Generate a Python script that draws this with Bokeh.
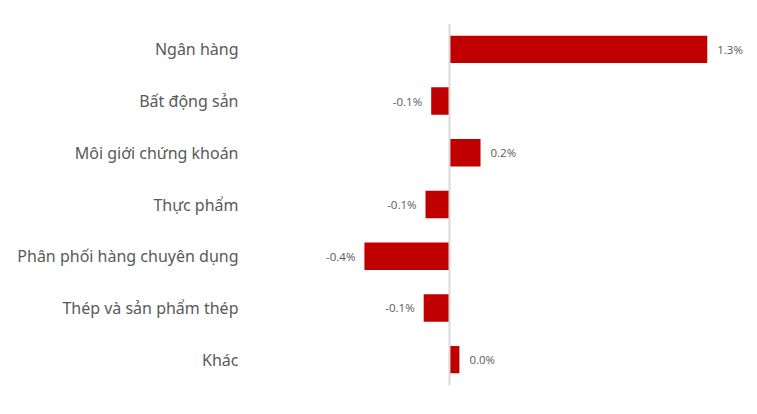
from bokeh.plotting import figure
from bokeh.models import ColumnDataSource, Span, FactorRange
from bokeh.core.properties import value
from bokeh.embed import file_html
from bokeh.resources import INLINE

categories = ["Ngân hàng", "Bất động sản", "Môi giới chứng khoán", "Thực phẩm",
              "Phân phối hàng chuyên dụng", "Thép và sản phẩm thép", "Khác"]
values = [1.27, -0.09, 0.153, -0.118, -0.419, -0.127, 0.049]

labels = [f"{v:.1f}%" for v in values]
aligns = ["left" if v >= 0 else "right" for v in values]
offsets = [10 if v >= 0 else -9 for v in values]

src = ColumnDataSource(dict(cat=categories, val=values, lab=labels,
                            align=aligns, off=offsets))

p = figure(width=749, height=406, output_backend="svg", toolbar_location=None,
           y_range=FactorRange(factors=list(reversed(categories))),
           x_range=(-0.99, 1.478),
           min_border_left=248, min_border_right=0, min_border_top=23,
           min_border_bottom=21)
p.outline_line_color = None
p.grid.visible = False
p.xaxis.visible = False

p.hbar(y="cat", left=0, right="val", height=0.53, source=src,
       fill_color="#c00000", line_color=None)

p.add_layout(Span(location=0, dimension="height", line_color="#d9d9d9", line_width=2))

p.text(x="val", y="cat", text="lab", text_align="align", x_offset="off",
       text_baseline="middle", source=src, text_font=value("Open Sans"),
       text_font_size="11.5px", text_color="#595959")

ax = p.yaxis[0]
ax.axis_line_color = None
ax.major_tick_line_color = None
ax.minor_tick_line_color = None
ax.major_label_standoff = 4
ax.major_label_text_font = "Noto Sans"
ax.major_label_text_font_size = "16px"
ax.major_label_text_color = "#595959"

open("out.html", "w").write(file_html(p, INLINE))
